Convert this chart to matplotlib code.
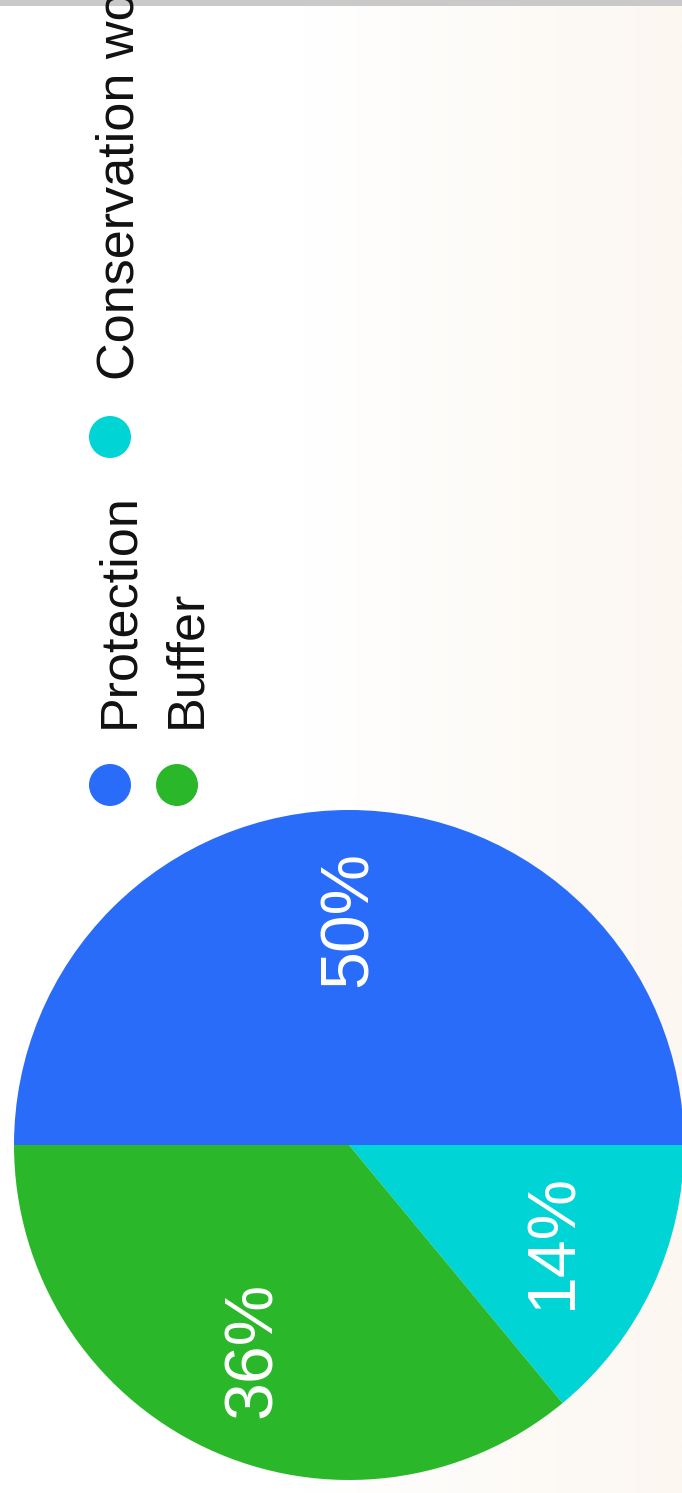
import numpy as np
import matplotlib.pyplot as plt
from matplotlib.patches import Circle, Rectangle

plt.rcParams['font.family'] = ['Liberation Sans', 'DejaVu Sans']

# 数据：按顺时针顺序
labels = ["Protection", "Conservation work", "Buffer"]
values = [50, 14, 36]
colors = ["#296CFA", "#00D4D4", "#2AB82A"]

W, H = 682, 1493
fig = plt.figure(figsize=(W / 100, H / 100), dpi=100)

# 背景层（像素坐标，y 向下）
bg = fig.add_axes([0, 0, 1, 1])
bg.set_xlim(0, W)
bg.set_ylim(H, 0)
bg.axis("off")
grad = np.linspace(0, 1, 256)
grad = np.clip((grad - 0.45) / 0.55, 0, 1)
c0 = np.array([1.0, 1.0, 1.0])
c1 = np.array([252, 247, 241]) / 255
img = c0[None, None, :] * (1 - grad[None, :, None]) + c1[None, None, :] * grad[None, :, None]
bg.imshow(img, extent=[0, W, H, 0], aspect="auto", zorder=0)
bg.add_patch(Rectangle((0, 0), W, 6, color="#c9c9c9", lw=0, zorder=1))

# 图例（旋转 90 度）
legend_pos = [(110, 785), (110, 437), (177, 785)]
for (x, y), lab, col in zip(legend_pos, labels, colors):
    bg.add_patch(Circle((x, y), 21, color=col, lw=0, zorder=2))
    bg.text(x + 23, y - 57, lab, rotation=90, rotation_mode="anchor",
            ha="left", va="baseline", fontsize=37.5, color="#111111", zorder=3)

# 饼图
ax = fig.add_axes([14 / W, 13 / H, 670 / W, 670 / H])
wedges, texts, autotexts = ax.pie(
    values, colors=colors, startangle=180, counterclock=False,
    autopct="%d%%", pctdistance=0.675, radius=1,
    wedgeprops=dict(linewidth=0),
    textprops=dict(color="white", fontsize=49),
)
for t in autotexts:
    t.set_rotation(90)
ax.set_xlim(-1, 1)
ax.set_ylim(-1, 1)
ax.set_aspect("equal")
ax.axis("off")

fig.savefig("out.png", dpi=100)
